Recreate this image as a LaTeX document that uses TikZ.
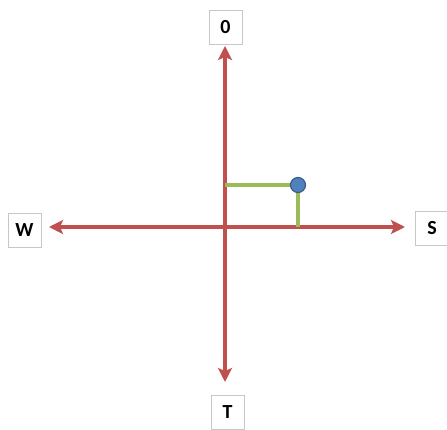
\documentclass[tikz,border=0pt]{standalone}
\usepackage{fontspec}
\setmainfont{Carlito}
\usepackage{tikz}
\usetikzlibrary{arrows.meta,positioning}
\definecolor{axisred}{RGB}{192,80,77}
\definecolor{projgreen}{RGB}{155,187,89}
\definecolor{dotblue}{RGB}{79,129,189}
\definecolor{dotedge}{RGB}{56,93,138}
\begin{document}
\begin{tikzpicture}[x=1pt, y=-1pt,
          lbl/.style={draw=black!22, minimum width=33pt, minimum height=34pt,
                      inner sep=0pt, font=\fontsize{20}{22}\selectfont\bfseries},
          axis/.style={{Stealth[length=14pt,width=14pt,inset=3pt]}-{Stealth[length=14pt,width=14pt,inset=3pt]},
                       line width=3.4pt, axisred},
          proj/.style={line width=3.4pt, projgreen},
          pt/.style={circle, fill=dotblue, draw=dotedge, line width=1.2pt,
                     minimum size=15pt, inner sep=0pt}
        ]
          \useasboundingbox (0,0) rectangle (447,430);
          % labels at the axis ends
          \node[lbl] (zero) at (225.5,27.5) {0};
          \node[lbl] (west) at (24.5,230) {W};
          \node[lbl] (east) at (432,228) {S};
          \node[lbl] (time) at (227.5,412) {T};
          % axis end points
          \coordinate (top) at (225,46);
          \coordinate (bot) at (225,382);
          \coordinate (lft) at (49,227);
          \coordinate (rgt) at (405,227);
          \draw[axis] (top) -- (bot);
          \draw[axis] (lft) -- (rgt);
          % projection of the point
          \coordinate (knee) at (225,185);
          \coordinate (foot) at (298,227);
          \coordinate (pc) at (298,185);
          \draw[proj] (knee) -- (pc) -- (foot);
          \node[pt] (p) at (pc) {};
        \end{tikzpicture}
\end{document}
